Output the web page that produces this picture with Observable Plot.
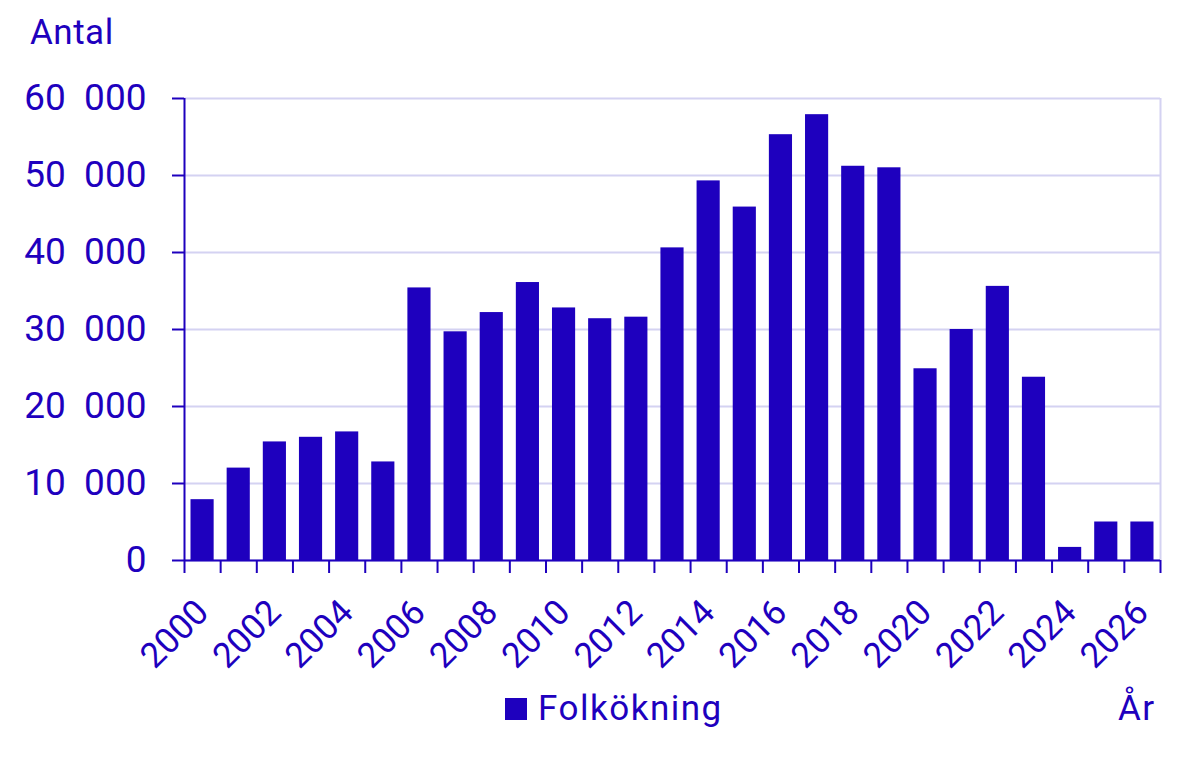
<!DOCTYPE html>
<html>
<head>
<meta charset="utf-8">
<script src="https://cdn.jsdelivr.net/npm/d3@7"></script>
<script src="https://cdn.jsdelivr.net/npm/@observablehq/plot@0.6"></script>
<style>
  html, body { margin: 0; padding: 0; background: #fff; }
  body { width: 1200px; height: 768px; overflow: hidden; font-family: Roboto, "Noto Sans", sans-serif; color: #1e00be; }
  #title { height: 60px; position: relative; }
  #title span { position: absolute; left: 30px; top: 13px; font-size: 35px; line-height: 40px; letter-spacing: 0.5px; white-space: nowrap; }
  #chart svg { display: block; }
  #legend { position: relative; height: 78px; }
  #legend .sw { position: absolute; left: 505px; top: 8px; width: 22px; height: 22px; background: #1e00be; }
  #legend .lab { position: absolute; left: 538px; top: 0px; font-size: 35px; line-height: 38px; letter-spacing: 1.5px; white-space: nowrap; }
  #legend .ar { position: absolute; left: 1118px; top: 0px; font-size: 35px; line-height: 38px; letter-spacing: 1.5px; white-space: nowrap; }
</style>
</head>
<body>
<div id="title"><span>Antal</span></div>
<div id="chart"></div>
<div id="legend"><div class="sw"></div><span class="lab">Folkökning</span><span class="ar">År</span></div>
<script>
const years = d3.range(2000, 2027);
const values = [7900, 12000, 15400, 16000, 16700, 12800, 35400, 29700, 32200, 36100,
  32800, 31400, 31600, 40600, 49300, 45900, 55300, 57900, 51200, 51000,
  24900, 30000, 35600, 23800, 1700, 5000, 5000];
const yTicks = [0, 10000, 20000, 30000, 40000, 50000, 60000];
const labelYears = d3.range(2000, 2027, 2);
const seriesName = "Folkökning";

const data = years.map((year, i) => ({year, value: values[i], series: seriesName}));
const blue = "#1e00be";
const grid = "#d4d2f2";
const fmt = d => d3.format(",")(d).replace(/,/g, "\u00a0\u00a0");
const xEnd = years[years.length - 1] + 1;

const chart = Plot.plot({
  width: 1200,
  height: 630,
  marginLeft: 184,
  marginRight: 40,
  marginTop: 38,
  marginBottom: 130,
  style: {fontFamily: "Roboto, 'Noto Sans', sans-serif", color: blue, background: "white", overflow: "visible"},
  x: {type: "linear", domain: [years[0], xEnd]},
  y: {domain: [0, 60000]},
  marks: [
    Plot.gridY({ticks: yTicks, stroke: grid, strokeOpacity: 1, strokeWidth: 2}),
    Plot.gridX({ticks: [xEnd], stroke: grid, strokeOpacity: 1, strokeWidth: 2}),
    Plot.rectY(data, {x: "year", y: "value", interval: 1, insetLeft: 6.5, insetRight: 6.5, fill: blue}),
    Plot.axisY({ticks: yTicks, tickSize: 12, tickPadding: 26, tickFormat: fmt, fontSize: 37, stroke: blue, strokeWidth: 2, label: null}),
    Plot.ruleX([years[0]], {y1: 0, y2: 60000, stroke: blue, strokeWidth: 2}),
    Plot.ruleY([0], {stroke: blue, strokeWidth: 2}),
    Plot.axisX({ticks: d3.range(years[0], xEnd + 1), tickSize: 13, tickFormat: () => "", stroke: blue, strokeWidth: 2, label: null}),
    Plot.axisX({ticks: labelYears.map(y => y + 0.5), tickSize: 0, tickFormat: d => String(d - 0.5), tickRotate: -45, tickPadding: 46, fontSize: 35, label: null})
  ]
});
document.getElementById("chart").appendChild(chart);
</script>
</body>
</html>
